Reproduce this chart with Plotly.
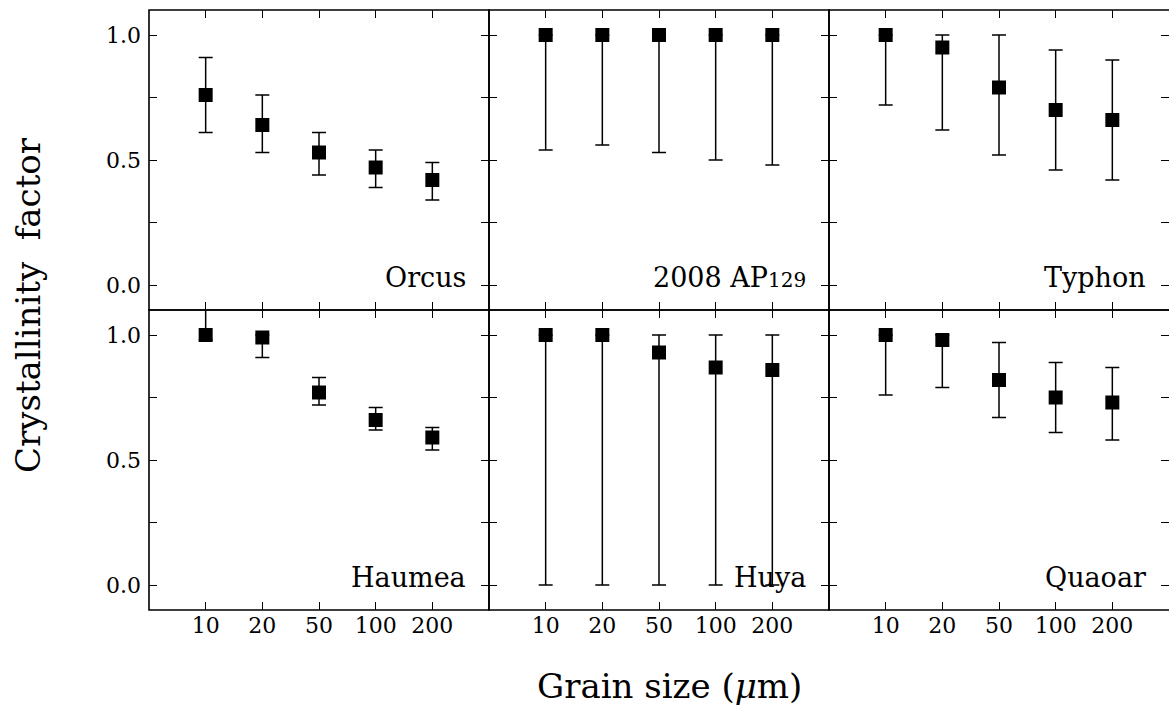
import plotly.graph_objects as go
from plotly.subplots import make_subplots

grain_sizes = ["10", "20", "50", "100", "200"]
y_tick_values = [0, 0.25, 0.5, 0.75, 1.0]
pad = "<span style='color:rgba(0,0,0,0)'>.</span>"
y_tick_labels = ["0.0" + pad, "", "0.5" + pad, "", "1.0" + pad]
objects = ["Orcus", "2008 AP<span style='font-size:20px'>129</span>", "Typhon", "Haumea", "Huya", "Quaoar"]

orcus_val = [0.76, 0.64, 0.53, 0.47, 0.42]
orcus_hi = [0.91, 0.76, 0.61, 0.54, 0.49]
orcus_lo = [0.61, 0.53, 0.44, 0.39, 0.34]

ap129_val = [1.0, 1.0, 1.0, 1.0, 1.0]
ap129_hi = [1.0, 1.0, 1.0, 1.0, 1.0]
ap129_lo = [0.54, 0.56, 0.53, 0.50, 0.48]

typhon_val = [1.0, 0.95, 0.79, 0.70, 0.66]
typhon_hi = [1.0, 1.0, 1.0, 0.94, 0.90]
typhon_lo = [0.72, 0.62, 0.52, 0.46, 0.42]

haumea_val = [1.0, 0.99, 0.77, 0.66, 0.59]
haumea_hi = [1.15, 1.0, 0.83, 0.71, 0.63]
haumea_lo = [0.98, 0.91, 0.72, 0.62, 0.54]

huya_val = [1.0, 1.0, 0.93, 0.87, 0.86]
huya_hi = [1.0, 1.0, 1.0, 1.0, 1.0]
huya_lo = [0.0, 0.0, 0.0, 0.0, 0.0]

quaoar_val = [1.0, 0.98, 0.82, 0.75, 0.73]
quaoar_hi = [1.0, 1.0, 0.97, 0.89, 0.87]
quaoar_lo = [0.76, 0.79, 0.67, 0.61, 0.58]

series = [
    (orcus_val, orcus_hi, orcus_lo),
    (ap129_val, ap129_hi, ap129_lo),
    (typhon_val, typhon_hi, typhon_lo),
    (haumea_val, haumea_hi, haumea_lo),
    (huya_val, huya_hi, huya_lo),
    (quaoar_val, quaoar_hi, quaoar_lo),
]

FONT = "DejaVu Serif"

fig = make_subplots(rows=2, cols=3, shared_xaxes=True, shared_yaxes=True,
                    horizontal_spacing=0, vertical_spacing=0)

for i, (val, hi, lo) in enumerate(series):
    r, c = i // 3 + 1, i % 3 + 1
    fig.add_trace(go.Scatter(
        x=grain_sizes, y=val, mode="markers",
        marker=dict(symbol="square", size=14, color="black"),
        error_y=dict(type="data", symmetric=False,
                     array=[h - v for h, v in zip(hi, val)],
                     arrayminus=[v - l for v, l in zip(val, lo)],
                     color="black", thickness=1.5, width=7),
        showlegend=False,
    ), row=r, col=c)
    axn = "" if i == 0 else str(i + 1)
    fig.add_annotation(text=objects[i], xref=f"x{axn} domain", yref=f"y{axn} domain",
                       x=0.937, y=0.107, xanchor="right", yanchor="middle",
                       showarrow=False, font=dict(family=FONT, size=27, color="black"))
    fig.add_shape(type="rect", xref=f"x{axn} domain", yref=f"y{axn} domain",
                  x0=0, x1=1.01 if c == 3 else 1, y0=0, y1=1,
                  line=dict(color="black", width=1.6), layer="above")

fig.update_xaxes(type="category", categoryorder="array", categoryarray=grain_sizes,
                 range=[-1, 5], showline=False,
                 mirror="ticks", ticks="inside", ticklen=8, tickwidth=1.2, tickcolor="black",
                 showgrid=False, zeroline=False,
                 tickfont=dict(family=FONT, size=22, color="black"))
fig.update_yaxes(range=[-0.1, 1.1], tickvals=y_tick_values, ticktext=y_tick_labels,
                 showline=False,
                 mirror="ticks", ticks="inside", ticklen=8, tickwidth=1.2, tickcolor="black",
                 showgrid=False, zeroline=False,
                 tickfont=dict(family=FONT, size=22, color="black"))

fig.add_annotation(text="Grain size (<i>μ</i>m)", xref="paper", yref="paper",
                   x=(669 - 149) / 1020, y=-76 / 600, xanchor="center", yanchor="middle",
                   showarrow=False, font=dict(family=FONT, size=34, color="black"))
fig.add_annotation(text="Crystallinity  factor", xref="paper", yref="paper",
                   x=(28 - 149) / 1020, y=(610 - 305) / 600, xanchor="center", yanchor="middle",
                   textangle=-90, showarrow=False, font=dict(family=FONT, size=34, color="black"))

fig.update_layout(width=1169, height=707, margin=dict(l=149, r=0, t=10, b=97),
                  plot_bgcolor="white", paper_bgcolor="white")

fig.write_html("out.html")
